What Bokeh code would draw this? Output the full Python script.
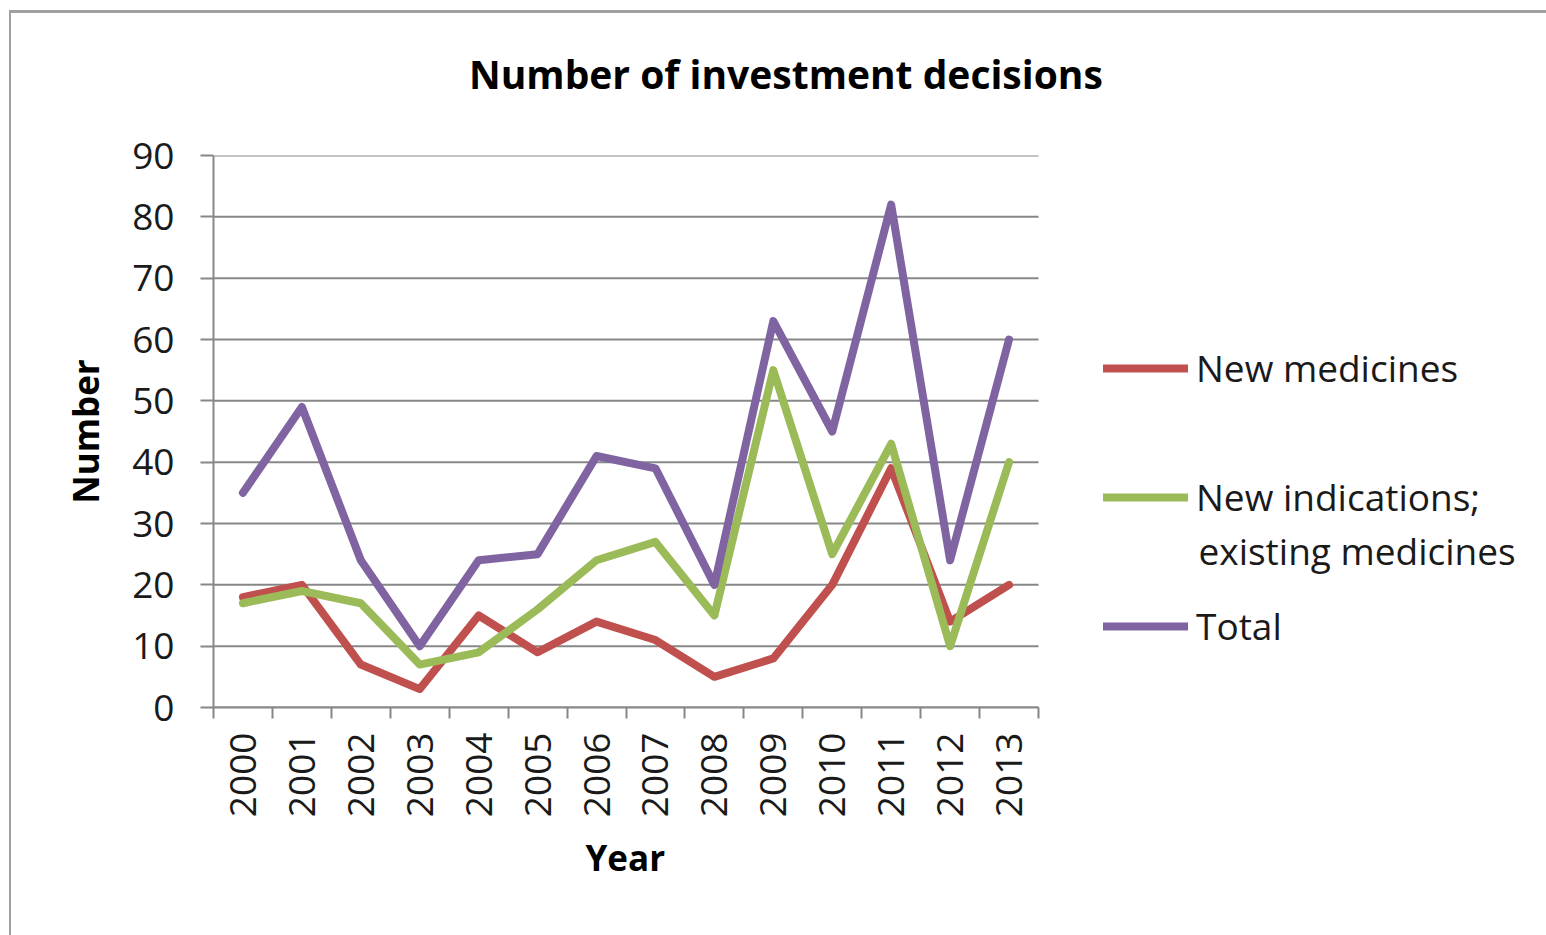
import math
from bokeh.plotting import figure
from bokeh.layouts import column
from bokeh.models import (Legend, LegendItem, FixedTicker, Label, Range1d, Div, Title)
from bokeh.embed import file_html
from bokeh.resources import INLINE

title_text = "Number of investment decisions"
x_title = "Year"
y_title = "Number"
years = ["2000", "2001", "2002", "2003", "2004", "2005", "2006",
         "2007", "2008", "2009", "2010", "2011", "2012", "2013"]
new_medicines = [18, 20, 7, 3, 15, 9, 14, 11, 5, 8, 20, 39, 14, 20]
new_indications = [17, 19, 17, 7, 9, 16, 24, 27, 15, 55, 25, 43, 10, 40]
total = [35, 49, 24, 10, 24, 25, 41, 39, 20, 63, 45, 82, 24, 60]
y_ticks = [0, 10, 20, 30, 40, 50, 60, 70, 80, 90]
series_names = ["New medicines", "New indications;", "Total"]
series_name_2nd_line = "existing medicines"

FONT = "Open Sans"
GRAY = "#878787"
RED = "#C0504D"
GREEN = "#9BBB59"
PURPLE = "#8064A2"

# layout (pixels)
W, H_TITLE, H_FIG = 1534, 100, 821
LEFT, BOTTOM, TOP = 202, 237, 32
PLOT_W = 825                      # width of the axes area holding the 14 years
FRAME_W = W - LEFT                # frame extends under the legend

n = len(years)
xs = [i + 0.5 for i in range(n)]
x_end = n * FRAME_W / PLOT_W

title_div = Div(
    text=(f'<div style="margin-left:453px; padding-top:29px; font-family:\'Open Sans\';'
          f' font-size:39px; font-weight:bold; color:black; white-space:nowrap;'
          f' line-height:53px;">{title_text}</div>'),
    width=W, height=H_TITLE)

p = figure(width=W, height=H_FIG, output_backend="svg", toolbar_location=None,
           x_range=Range1d(0, x_end), y_range=Range1d(0, 90),
           min_border_left=LEFT, min_border_right=0, min_border_top=TOP,
           min_border_bottom=BOTTOM)
p.outline_line_color = None
p.background_fill_color = "white"
p.border_fill_color = "white"

# horizontal grid lines limited to the plot area
p.xgrid.visible = False
p.ygrid.visible = False
p.segment(x0=[0] * len(y_ticks), y0=y_ticks, x1=[n] * len(y_ticks), y1=y_ticks,
          line_color=GRAY, line_width=2)

r1 = p.line(xs, new_medicines, line_color=RED, line_width=8, line_join="round", line_cap="round")
r2 = p.line(xs, new_indications, line_color=GREEN, line_width=8, line_join="round", line_cap="round")
r3 = p.line(xs, total, line_color=PURPLE, line_width=8, line_join="round", line_cap="round")

# y axis
ya = p.yaxis[0]
ya.ticker = FixedTicker(ticks=y_ticks)
ya.axis_line_color = GRAY
ya.axis_line_width = 2
ya.major_tick_line_color = GRAY
ya.major_tick_line_width = 2
ya.major_tick_out = 13
ya.major_tick_in = 0
ya.minor_tick_line_color = None
ya.major_label_text_font = FONT
ya.major_label_text_font_size = "37px"
ya.major_label_text_color = "#1a1a1a"
ya.major_label_standoff = 26
ya.axis_label = y_title
ya.axis_label_text_font = FONT
ya.axis_label_text_font_size = "35px"
ya.axis_label_text_font_style = "bold"
ya.axis_label_text_color = "black"
ya.axis_label_standoff = 20

# x axis
xa = p.xaxis[0]
xa.bounds = (0, n)
xa.ticker = FixedTicker(ticks=xs, minor_ticks=list(range(n + 1)))
xa.major_label_overrides = {x: y for x, y in zip(xs, years)}
xa.axis_line_color = GRAY
xa.axis_line_width = 2
xa.major_tick_line_color = None
xa.major_tick_out = 0
xa.major_tick_in = 0
xa.minor_tick_line_color = GRAY
xa.minor_tick_line_width = 2
xa.minor_tick_out = 11
xa.minor_tick_in = 0
xa.major_label_orientation = math.pi / 2
xa.major_label_text_font = FONT
xa.major_label_text_font_size = "37px"
xa.major_label_text_color = "#1a1a1a"
xa.major_label_standoff = 14

# x-axis title, centred under the year axis (not under the whole frame)
xt = Title(text=x_title, align="left", offset=372, text_font=FONT,
           text_font_size="35px", text_font_style="bold", text_color="black",
           standoff=22)
p.add_layout(xt, "below")

# legend
legend = Legend(items=[
    LegendItem(label=series_names[0], renderers=[r1]),
    LegendItem(label=series_names[1], renderers=[r2]),
    LegendItem(label=series_names[2], renderers=[r3]),
], location=(890, 56))
legend.label_text_font = FONT
legend.label_text_font_size = "37px"
legend.label_text_color = "#1a1a1a"
legend.glyph_width = 85
legend.glyph_height = 44
legend.label_height = 44
legend.label_standoff = 8
legend.spacing = 78
legend.padding = 0
legend.margin = 0
legend.border_line_color = None
legend.background_fill_alpha = 0
p.add_layout(legend)

extra = Label(x=n * (985 / PLOT_W), y=90 * 157 / 552,
              text=series_name_2nd_line, text_font=FONT, text_font_size="37px",
              text_color="#1a1a1a", text_baseline="middle", text_align="left")
p.add_layout(extra)

layout = column(title_div, p, spacing=0)
layout.styles = {"border-top": "3px solid #a0a0a0", "border-left": "2px solid #a0a0a0",
                 "margin-left": "9px", "margin-top": "10px"}

open("out.html", "w").write(file_html(layout, INLINE))
